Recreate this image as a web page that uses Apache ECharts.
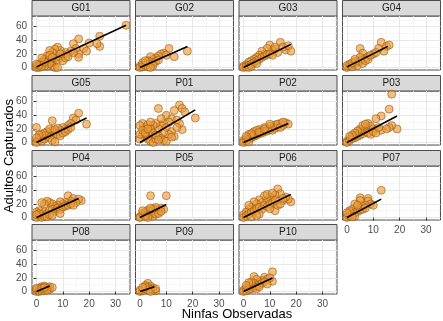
<!DOCTYPE html>
<html>
<head>
<meta charset="utf-8">
<script src="https://cdn.jsdelivr.net/npm/echarts@6/dist/echarts.min.js"></script>
<style>
html, body { margin: 0; padding: 0; background: #ffffff; }
#chart { width: 443px; height: 321px; }
</style>
</head>
<body>
<div id="chart"></div>
<script>
// nombres de los paneles
var panelNames = ['G01','G02','G03','G04','G05','P01','P02','P03','P04','P05','P06','P07','P08','P09','P10'];

// ticks
var xTicks = [0, 10, 20, 30];
var xMinor = [5, 15, 25, 35];
var yTicks = [0, 20, 40, 60];
var yMinor = [10, 30, 50, 70];

// [ninfas, adultos] por panel
var g01 = [[34,62],[24,46],[24,31],[23,35],[20,36],[16,42],[14,35],[16,20],[16,15],[15,28],[13,24],[12,20],[11,22],[10,18],[9,25],[8,30],[7,27],[6,22],[5,25],[4,17],[3,12],[2,8],[1,5],[0,2],[0,0],[1,0],[2,3],[3,6],[4,10],[5,12],[6,8],[7,14],[8,12],[9,15],[10,10],[11,14],[6,2],[7,0],[8,0],[4,2],[5,6],[3,2],[2,1],[1,3],[0,5],[9,20],[12,16],[14,22],[18,28],[19,24],[5,18],[6,15],[3,8],[2,14]];
var g02 = [[18,24],[11,28],[13,16],[9,21],[8,20],[7,17],[6,14],[5,12],[4,16],[3,10],[2,6],[1,4],[0,2],[0,0],[1,1],[2,3],[3,5],[4,8],[5,6],[6,9],[7,11],[3,1],[1,7],[2,10],[5,3],[4,0],[10,18]];
var g03 = [[14,37],[10,33],[12,27],[16,26],[18,24],[15,30],[17,32],[13,22],[11,25],[9,28],[8,20],[7,24],[6,18],[5,15],[4,12],[3,10],[2,8],[1,4],[0,2],[0,0],[1,1],[2,3],[3,5],[4,7],[5,10],[6,12],[7,15],[8,17],[9,19],[10,20],[11,18],[12,30],[2,0],[3,2],[5,6]];
var g04 = [[13,37],[5,28],[6,21],[15,31],[14,24],[16,33],[12,28],[10,20],[8,16],[7,14],[6,12],[5,10],[4,8],[3,6],[2,4],[1,2],[0,0],[0,3],[1,5],[2,1],[3,9],[4,3],[5,15],[6,6],[7,10],[8,12],[9,18],[11,22],[2,7],[3,12]];
var g05 = [[16,43],[19,27],[6,32],[0,22],[14,36],[15,33],[13,28],[12,25],[11,20],[10,22],[9,18],[8,21],[7,15],[6,18],[5,12],[4,16],[3,9],[2,6],[1,4],[0,2],[0,0],[1,8],[2,2],[3,5],[4,10],[5,7],[6,3],[7,1],[8,12],[9,10],[10,14],[11,16],[12,19],[3,14],[2,12],[1,11],[0,7],[5,20],[7,19],[13,22]];
var p01 = [[7,50],[15,55],[16,50],[13,47],[21,36],[16,19],[13,9],[10,40],[12,35],[11,30],[9,28],[8,25],[10,22],[14,33],[15,28],[12,16],[11,12],[9,15],[8,35],[7,20],[6,28],[5,25],[4,18],[3,15],[2,22],[1,28],[0,25],[1,12],[2,8],[3,5],[4,2],[5,0],[6,5],[7,10],[8,6],[9,3],[0,5],[0,12],[1,18],[2,14],[3,26],[4,20],[5,14],[6,11],[7,4],[4,30],[3,20],[10,2],[12,8],[14,22],[17,45]];
var p02 = [[16,29],[17,27],[15,25],[14,28],[13,23],[12,26],[11,22],[10,24],[9,20],[8,22],[7,17],[6,19],[5,14],[4,16],[3,10],[2,12],[1,6],[0,3],[0,0],[1,2],[2,5],[3,7],[4,9],[5,11],[6,13],[7,14],[8,16],[9,17],[10,19],[11,18],[12,21],[13,27],[14,22],[15,30],[4,12],[5,18],[6,15],[3,13],[2,1],[1,9],[8,20],[10,27]];
var p03 = [[17,71],[16,49],[13,39],[11,35],[19,20],[17,25],[16,22],[13,18],[15,20],[8,28],[9,24],[10,20],[7,22],[6,18],[5,15],[4,12],[3,10],[2,8],[1,5],[0,2],[0,0],[1,3],[2,6],[3,7],[4,9],[5,11],[6,13],[7,16],[8,14],[9,12],[10,16],[11,14],[12,22],[5,20],[4,17],[3,14],[6,25],[7,27],[2,11],[1,9]];
var p04 = [[12,32],[17,25],[14,28],[16,27],[15,22],[13,24],[11,22],[10,20],[9,23],[8,18],[7,16],[6,20],[5,22],[4,24],[3,20],[2,22],[1,10],[0,8],[0,0],[1,3],[2,5],[3,8],[4,6],[5,10],[6,12],[7,9],[8,14],[9,12],[10,15],[11,17],[12,18],[13,20],[2,0],[3,2],[4,1],[5,4],[6,3],[1,6],[0,4],[9,6],[14,18]];
var p05 = [[4,32],[10,32],[8,14],[9,12],[7,10],[6,12],[5,8],[4,10],[3,7],[2,5],[1,3],[0,1],[0,0],[1,6],[2,8],[3,11],[4,4],[5,2],[6,5],[7,6],[8,9],[3,0],[2,2],[1,10],[5,13],[6,15],[4,14]];
var p06 = [[13,42],[18,23],[17,27],[16,30],[15,25],[14,35],[12,33],[11,28],[10,30],[9,25],[8,32],[7,22],[6,26],[5,20],[4,23],[3,15],[2,12],[1,8],[0,4],[0,0],[1,2],[2,5],[3,8],[4,10],[5,13],[6,15],[7,12],[8,18],[9,16],[10,20],[11,22],[12,10],[13,18],[14,20],[15,28],[12,25],[6,5],[3,1],[5,3],[10,13],[2,18],[9,34],[11,36]];
var p07 = [[13,40],[5,29],[5,25],[8,28],[8,24],[9,20],[7,18],[6,16],[4,15],[3,20],[2,12],[1,8],[0,4],[0,0],[1,2],[2,5],[3,7],[4,9],[5,11],[6,12],[7,14],[10,18],[3,2],[2,1],[1,10],[0,7],[4,18]];
var p08 = [[0,0],[1,2],[1,5],[2,3],[2,7],[3,4],[3,8],[4,5],[4,6],[5,7],[5,3],[6,6],[0,3],[1,0],[2,1],[3,1],[4,2],[0,5],[2,5],[3,6]];
var p09 = [[3,12],[2,9],[4,8],[3,6],[5,5],[6,1],[5,2],[4,3],[1,3],[0,0],[1,1],[2,4],[0,2],[3,2],[4,0],[2,7],[1,6],[6,4]];
var p10 = [[11,29],[11,15],[4,22],[8,21],[9,18],[10,20],[7,16],[6,14],[5,18],[4,12],[3,10],[2,8],[1,5],[0,2],[0,0],[1,1],[2,3],[3,4],[4,6],[5,8],[6,10],[7,12],[8,14],[9,11],[3,14],[2,13],[1,9],[5,4],[6,7]];
var panelPoints = [g01, g02, g03, g04, g05, p01, p02, p03, p04, p05, p06, p07, p08, p09, p10];

// extremos de la recta ajustada
var fitStart = [[0,1],[0,0],[0,0],[0,1],[0,0],[0,0],[0,0],[0,0],[0,0],[0,0],[0,0],[0,0],[0,0],[0,0],[0,0]];
var fitEnd = [[34,62],[18,31],[18,34],[15.5,31],[19,36],[21,48],[17,28],[19,39],[16,28],[10,19],[18,34],[13,27],[5,8],[5.5,7],[11,20]];

var myChart = echarts.init(document.getElementById('chart'), null, { renderer: 'canvas' });

var colLeft = [32, 135.5, 239, 342.5];
var stripTop = [0, 75, 150, 224];
var panelW = 98;
var stripH = 16;
var panelH = 54;

var grids = [], xAxes = [], yAxes = [], series = [], graphics = [];
var i, r, c, showX, showY;

for (i = 0; i < panelNames.length; i++) {
	r = Math.floor(i / 4);
	c = i % 4;
	showX = r === 3 || (r === 2 && c === 3);
	showY = c === 0;

	grids.push({
		left: colLeft[c],
		top: stripTop[r] + stripH,
		width: panelW,
		height: panelH,
		show: true,
		backgroundColor: 'transparent',
		borderColor: '#4d4d4d',
		borderWidth: 1,
		containLabel: false,
		outerBoundsMode: 'none'
	});

	// eje principal
	xAxes.push({
		type: 'value', gridIndex: i, min: -1.7, max: 35.5,
		axisLine: { show: false },
		axisTick: { show: showX, length: 3, customValues: xTicks, lineStyle: { color: '#333333' } },
		axisLabel: { show: showX, customValues: xTicks, margin: 5, fontSize: 10, color: '#4d4d4d', fontFamily: 'Liberation Sans' },
		splitLine: { show: true, lineStyle: { color: '#e8e8e8', width: 1 } }
	});
	// eje menor, solo lineas
	xAxes.push({
		type: 'value', gridIndex: i, min: -1.7, max: 35.5, position: 'bottom',
		axisLine: { show: false },
		axisTick: { show: false, customValues: xMinor },
		axisLabel: { show: false, customValues: xMinor },
		splitLine: { show: true, lineStyle: { color: '#f2f2f2', width: 0.7 } }
	});
	yAxes.push({
		type: 'value', gridIndex: i, min: -3.6, max: 75.6,
		axisLine: { show: false },
		axisTick: { show: showY, length: 3, customValues: yTicks, lineStyle: { color: '#333333' } },
		axisLabel: { show: showY, customValues: yTicks, margin: 5, fontSize: 10, color: '#4d4d4d', fontFamily: 'Liberation Sans' },
		splitLine: { show: true, lineStyle: { color: '#e8e8e8', width: 1 } }
	});
	yAxes.push({
		type: 'value', gridIndex: i, min: -3.6, max: 75.6, position: 'left',
		axisLine: { show: false },
		axisTick: { show: false, customValues: yMinor },
		axisLabel: { show: false, customValues: yMinor },
		splitLine: { show: true, lineStyle: { color: '#f2f2f2', width: 0.7 } }
	});

	series.push({
		type: 'scatter',
		xAxisIndex: 2 * i,
		yAxisIndex: 2 * i,
		symbolSize: 8,
		itemStyle: { color: 'rgba(238,155,55,0.8)', borderColor: '#8a5210', borderWidth: 0.7 },
		data: panelPoints[i],
		z: 2
	});
	series.push({
		type: 'line',
		xAxisIndex: 2 * i,
		yAxisIndex: 2 * i,
		symbol: 'none',
		lineStyle: { color: '#000000', width: 1.6 },
		data: [fitStart[i], fitEnd[i]],
		z: 3
	});

	// franja con el nombre del panel
	graphics.push({
		type: 'rect',
		shape: { x: colLeft[c], y: stripTop[r] + 0.5, width: panelW, height: stripH - 0.5 },
		style: { fill: '#d9d9d9', stroke: '#4d4d4d', lineWidth: 1 }
	});
	graphics.push({
		type: 'text',
		x: colLeft[c] + panelW / 2,
		y: stripTop[r] + stripH / 2 + 0.5,
		style: { text: panelNames[i], fill: '#1a1a1a', fontSize: 10, fontFamily: 'Liberation Sans', textAlign: 'center', textVerticalAlign: 'middle' }
	});
}

graphics.push({
	type: 'text',
	x: 9, y: 156,
	rotation: Math.PI / 2,
	style: { text: 'Adultos Capturados', fill: '#000000', fontSize: 13, fontFamily: 'Liberation Sans', textAlign: 'center', textVerticalAlign: 'middle' }
});
graphics.push({
	type: 'text',
	x: 237, y: 314,
	style: { text: 'Ninfas Observadas', fill: '#000000', fontSize: 13, fontFamily: 'Liberation Sans', textAlign: 'center', textVerticalAlign: 'middle' }
});

var option = {
	animation: false,
	backgroundColor: '#ffffff',
	grid: grids,
	xAxis: xAxes,
	yAxis: yAxes,
	series: series,
	graphic: graphics
};
myChart.setOption(option);
</script>
</body>
</html>
